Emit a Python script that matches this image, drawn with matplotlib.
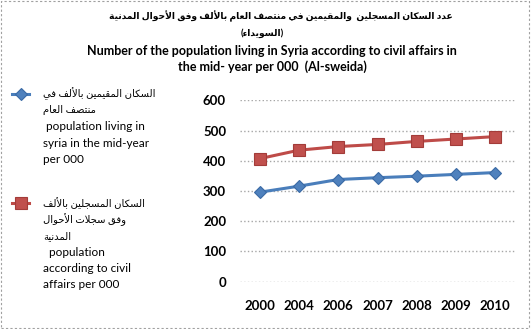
import numpy as np
import matplotlib
matplotlib.use("Agg")
import matplotlib.pyplot as plt
from matplotlib.patches import Rectangle
from matplotlib.lines import Line2D

years = ["2000", "2004", "2006", "2007", "2008", "2009", "2010"]
living = [296, 316, 338, 344, 349, 355, 361]
registered = [407, 435, 447, 454, 464, 472, 480]

title_ar = ["عدد السكان المسجلين  والمقيمين في منتصف العام بالألف وفق الأحوال المدنية",
            "(السويداء)"]
title_en = "Number of the population living in Syria according to civil affairs in\nthe mid- year per 000  (Al-sweida)"
label_living_ar = ["السكان المقيمين بالألف في", "منتصف العام"]
label_living_en = [" population living in", "syria in the mid-year", "per 000"]
label_reg_ar = ["السكان المسجلين بالألف", "وفق سجلات الأحوال", "المدنية"]
label_reg_en = ["  population", "according to civil", "affairs per 000"]


# matplotlib has no arabic shaping, so pick presentation forms by hand
_letters = "ءآأؤإئابةتثجحخدذرزسشصضطظعغفقكلمنهوىي"
_counts = [1, 2, 2, 2, 2, 4, 2, 4, 2, 4, 4, 4, 4, 4, 2, 2, 2, 2,
           4, 4, 4, 4, 4, 4, 4, 4, 4, 4, 4, 4, 4, 4, 4, 2, 2, 4]
_forms = {}
_code = 0xFE80
for ch, n in zip(_letters, _counts):
    _forms[ch] = [chr(_code + k) for k in range(n)]
    _code += n
_lamalef = {"آ": 0xFEF5, "أ": 0xFEF7, "إ": 0xFEF9, "ا": 0xFEFB}


def shape(text):
    units = []
    i = 0
    while i < len(text):
        if text[i] == "ل" and i + 1 < len(text) and text[i + 1] in _lamalef:
            units.append(("LA", text[i + 1]))
            i += 2
        else:
            units.append(text[i])
            i += 1

    def dual(u):
        return isinstance(u, str) and u in _forms and len(_forms[u]) == 4

    def joining(u):
        return isinstance(u, tuple) or (u in _forms and len(_forms[u]) >= 2)

    out = []
    for k, u in enumerate(units):
        prev_ok = k > 0 and dual(units[k - 1]) and joining(u)
        next_ok = dual(u) and k + 1 < len(units) and joining(units[k + 1])
        if isinstance(u, tuple):
            out.append(chr(_lamalef[u[1]] + (1 if prev_ok else 0)))
        elif u in _forms:
            idx = 3 if (prev_ok and next_ok) else 2 if next_ok else 1 if prev_ok else 0
            out.append(_forms[u][idx])
        else:
            out.append(u)
    s = "".join(reversed(out))
    return s.translate(str.maketrans("()", ")("))


fam = ["Lato", "DejaVu Sans"]
W, H = 531, 329

fig = plt.figure(figsize=(W / 100, H / 100), dpi=100)
ax = fig.add_axes([240 / W, 1 - 281.7 / H, 275 / W, 181.4 / H])

x = np.arange(len(years))
style_living = dict(color="#4A7EBB", lw=2.2, marker="D", ms=6.5,
                    mfc="#4F81BD", mec="#3A6AA5", mew=0.8)
style_reg = dict(color="#BE4B48", lw=2.2, marker="s", ms=8,
                 mfc="#C0504D", mec="#A33C39", mew=0.8)
ax.plot(x, living, **style_living)
ax.plot(x, registered, **style_reg)

ax.set_xlim(-0.5, 6.5)
ax.set_ylim(0, 600)
ax.set_yticks(range(0, 700, 100))
ax.set_xticks(x, years)
ax.grid(axis="y", color="#a6a6a6", ls=":", lw=1)
ax.set_axisbelow(True)
for s in ax.spines.values():
    s.set_visible(False)
ax.tick_params(axis="y", length=0, pad=10)
ax.tick_params(axis="x", length=0, pad=13)
for t in ax.get_xticklabels() + ax.get_yticklabels():
    t.set_fontfamily(fam)
    t.set_fontweight("bold")
    t.set_fontsize(9.5)

# legend drawn by hand: Excel puts the key beside the first line of a wrapped label
step = 16.4
for style, ar, en, y0 in [(style_living, label_living_ar, label_living_en, 94),
                          (style_reg, label_reg_ar, label_reg_en, 203)]:
    fig.add_artist(Line2D([12 / W, 20.5 / W, 29 / W], [1 - y0 / H] * 3,
                          transform=fig.transFigure, markevery=[1], **style))
    lines = [(shape(t), 7.2) for t in ar] + [(t, 8.5) for t in en]
    for k, (txt, fs) in enumerate(lines):
        fig.text(43 / W, 1 - (y0 + k * step) / H, txt, ha="left", va="center",
                 fontsize=fs, family=fam)

fig.text(281 / W, 1 - 16 / H, shape(title_ar[0]), ha="center", va="center",
         fontsize=6.6, fontweight="bold", family=fam)
fig.text(262 / W, 1 - 33 / H, shape(title_ar[1]), ha="center", va="center",
         fontsize=6.6, fontweight="bold", family=fam)
fig.text(272 / W, 1 - 59 / H, title_en, ha="center", va="center",
         fontsize=9, fontweight="bold", family=fam, linespacing=1.35)

fig.add_artist(Rectangle((0.002, 0.003), 0.995, 0.994, transform=fig.transFigure,
                         fill=False, ec="#a0a0a0", ls=(0, (2, 2)), lw=0.8))

fig.savefig("out.png", dpi=100)
